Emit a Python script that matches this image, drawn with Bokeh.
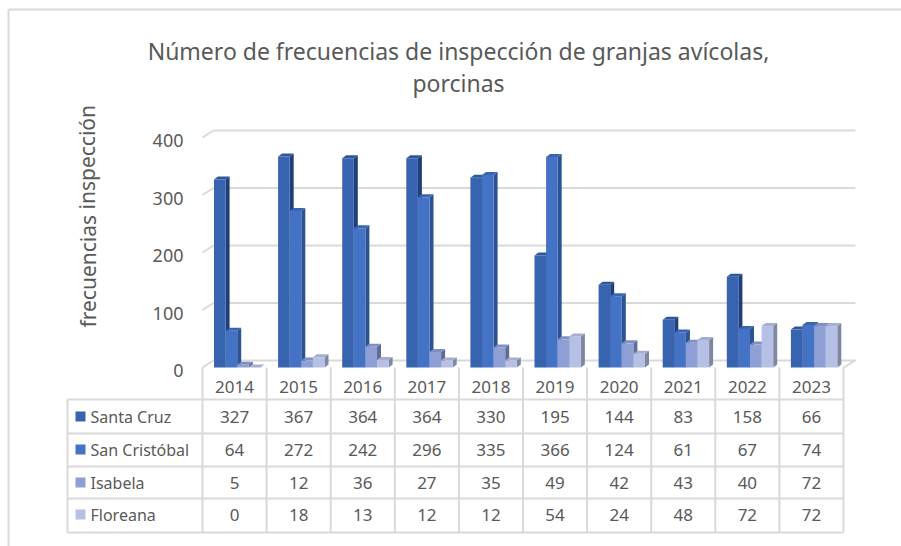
from bokeh.plotting import figure
from bokeh.models import Range1d
from bokeh.core.properties import value
from bokeh.embed import file_html
from bokeh.resources import INLINE

# ---- data ----
years = ["2014", "2015", "2016", "2017", "2018", "2019", "2020", "2021", "2022", "2023"]
series_names = ["Santa Cruz", "San Cristóbal", "Isabela", "Floreana"]
santa_cruz = [327, 367, 364, 364, 330, 195, 144, 83, 158, 66]
san_cristobal = [64, 272, 242, 296, 335, 366, 124, 61, 67, 74]
isabela = [5, 12, 36, 27, 35, 49, 42, 43, 40, 72]
floreana = [0, 18, 13, 12, 12, 54, 24, 48, 72, 72]
y_ticks = [0, 100, 200, 300, 400]
title_lines = ["Número de frecuencias de inspección de granjas avícolas,", "porcinas"]
y_title = "frecuencias  inspección"

series_values = [santa_cruz, san_cristobal, isabela, floreana]
front_colors = ["#3763AF", "#4472C4", "#8E9FD5", "#B6C0E4"]
side_colors = ["#203F7A", "#2C5394", "#5E6C96", "#7D86A3"]
top_colors = ["#2E5699", "#3A65B2", "#7F8FC2", "#A4AED3"]

# ---- layout (page pixel coordinates) ----
W, H = 901, 546
OFF = 0
Y0 = 367.0          # image y of value 0 (front plane)
S = 0.575           # pixels per unit

def X(ix):
    return ix - OFF

def Y(iy):
    return (Y0 - iy) / S

p = figure(width=W, height=H, x_range=Range1d(0, W), y_range=Range1d(Y(OFF + H), Y(OFF)),
           output_backend="svg", toolbar_location=None, min_border=0)
p.axis.visible = False
p.grid.visible = False
p.outline_line_color = None
p.background_fill_color = "white"

font = value("Noto Sans")
tc = "#595959"
gc = "#D9D9D9"

# outer card border (top and left)
p.segment(x0=[X(8), X(8)], y0=[Y(9), Y(9)], x1=[X(901), X(8)], y1=[Y(9), Y(546)],
          line_color=gc, line_width=2)

# title
p.text(x=[X(458)] * 2, y=[Y(50), Y(82)], text=title_lines, text_font=font,
       text_font_size="23px", text_color=tc, text_align="center", text_baseline="middle")

# y axis title
p.text(x=[X(87)], y=[Y(213)], text=[y_title], text_font=font, text_font_size="21px",
       text_color=tc, text_align="center", text_baseline="middle", angle=1.5708)

# chart geometry
cat_left = 202.0
cat_w = 64.1
depth_dx = 11.0
depth_dyv = 7.0 / S
n = len(years)

# back wall gridlines + side-wall diagonals
gx0, gy0, gx1, gy1 = [], [], [], []
for t in y_ticks:
    gx0.append(X(cat_left + depth_dx)); gy0.append(t + depth_dyv)
    gx1.append(X(cat_left + n * cat_w + depth_dx + 1)); gy1.append(t + depth_dyv)
    gx0.append(X(cat_left)); gy0.append(t)
    gx1.append(X(cat_left + depth_dx)); gy1.append(t + depth_dyv)
# floor right diagonal
gx0.append(X(cat_left + n * cat_w)); gy0.append(0)
gx1.append(X(cat_left + n * cat_w + depth_dx + 1)); gy1.append(depth_dyv)
p.segment(x0=gx0, y0=gy0, x1=gx1, y1=gy1, line_color=gc, line_width=2)

# y tick labels
p.text(x=[X(183)] * len(y_ticks), y=[t - 3.0 / S for t in y_ticks],
       text=[str(t) for t in y_ticks], text_font=font, text_font_size="18px",
       text_color=tc, text_align="right", text_baseline="middle")

# 3D bars
bar_off = 11.5
bar_w = 11.6
bdx = 4.0
bdyv = 3.0 / S
for si, vals in enumerate(series_values):
    lefts, rights, tops = [], [], []
    side_xs, side_ys, top_xs, top_ys = [], [], [], []
    for ci, v in enumerate(vals):
        xl = X(cat_left + ci * cat_w + bar_off + si * bar_w)
        xr = xl + bar_w
        lefts.append(xl); rights.append(xr); tops.append(v)
        side_xs.append([xr, xr + bdx, xr + bdx, xr])
        side_ys.append([0, bdyv, v + bdyv, v])
        top_xs.append([xl, xl + bdx, xr + bdx, xr])
        top_ys.append([v, v + bdyv, v + bdyv, v])
    p.patches(xs=side_xs, ys=side_ys, fill_color=side_colors[si], line_color=None)
    p.patches(xs=top_xs, ys=top_ys, fill_color=top_colors[si], line_color=None)
    p.quad(left=lefts, right=rights, bottom=[0] * n, top=tops,
           fill_color=front_colors[si], line_color=None)

# data table
row_lines = [399, 433, 466, 498, 532]
row_centers = [416, 449, 482, 514]
header_center = 386
tab_left = 67
tab_right = cat_left + n * cat_w
lx0, ly0, lx1, ly1 = [], [], [], []
for ry in row_lines:
    lx0.append(X(tab_left)); ly0.append(Y(ry)); lx1.append(X(tab_right)); ly1.append(Y(ry))
for k in range(n + 1):
    cx = cat_left + k * cat_w
    lx0.append(X(cx)); ly0.append(Y(Y0)); lx1.append(X(cx)); ly1.append(Y(row_lines[-1]))
lx0.append(X(tab_left)); ly0.append(Y(row_lines[0])); lx1.append(X(tab_left)); ly1.append(Y(row_lines[-1]))
p.segment(x0=lx0, y0=ly0, x1=lx1, y1=ly1, line_color=gc, line_width=2)

col_centers = [X(cat_left + (k + 0.5) * cat_w) for k in range(n)]
p.text(x=col_centers, y=[Y(header_center)] * n, text=years, text_font=font,
       text_font_size="17px", text_color=tc, text_align="center", text_baseline="middle")
for si, vals in enumerate(series_values):
    ry = Y(row_centers[si])
    p.text(x=col_centers, y=[ry] * n, text=[str(v) for v in vals], text_font=font,
           text_font_size="17px", text_color=tc, text_align="center", text_baseline="middle")
    p.rect(x=[X(80)], y=[ry], width=10, height=10 / S, fill_color=front_colors[si], line_color=None)
    p.text(x=[X(90)], y=[ry], text=[series_names[si]], text_font=font,
           text_font_size="16px", text_color=tc, text_align="left", text_baseline="middle")

open("out.html", "w").write(file_html(p, INLINE))
